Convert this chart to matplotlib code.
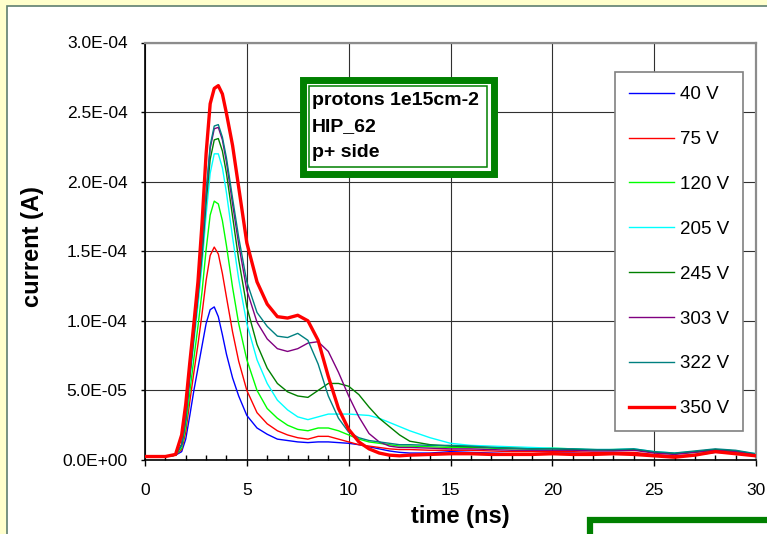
import matplotlib
matplotlib.use('Agg')
import matplotlib.pyplot as plt
from matplotlib.patches import Rectangle
from matplotlib.ticker import MultipleLocator, FixedLocator, FixedFormatter

plt.rcParams['font.family'] = ['Liberation Sans', 'DejaVu Sans']

# time axis (ns), shared by every bias voltage
time_ns = [0, 1, 1.5, 1.8, 2.0, 2.2, 2.4, 2.6, 2.8, 3.0,
           3.2, 3.4, 3.6, 3.8, 4.0, 4.3, 4.6, 5.0, 5.5, 6.0,
           6.5, 7.0, 7.5, 8.0, 8.5, 9.0, 9.5, 10.0, 10.5, 11.0,
           11.5, 12.0, 12.5, 13, 14, 15, 16, 17, 18, 19,
           20, 21, 22, 23, 24, 25, 26, 27, 28, 29, 30]

# current in units of 1e-5 A
i_40 = [0.25, 0.25, 0.35, 0.6, 1.5, 3.2, 5.0, 6.6, 8.2, 9.8,
        10.8, 11.0, 10.3, 9.0, 7.6, 5.9, 4.6, 3.2, 2.3, 1.85,
        1.5, 1.4, 1.3, 1.25, 1.3, 1.3, 1.25, 1.2, 1.1, 0.95,
        0.8, 0.65, 0.55, 0.5, 0.5, 0.6, 0.55, 0.5, 0.45, 0.45,
        0.5, 0.5, 0.45, 0.45, 0.5, 0.3, 0.2, 0.35, 0.55, 0.5, 0.4]
i_75 = [0.25, 0.25, 0.35, 0.75, 2.0, 4.2, 6.3, 8.3, 10.5, 12.9,
        14.7, 15.3, 14.8, 13.4, 11.7, 9.2, 7.1, 5.0, 3.4, 2.6,
        2.1, 1.8, 1.6, 1.5, 1.7, 1.7, 1.5, 1.3, 1.1, 1.0,
        0.9, 0.8, 0.75, 0.75, 0.7, 0.7, 0.7, 0.65, 0.6, 0.6,
        0.6, 0.6, 0.55, 0.55, 0.55, 0.4, 0.3, 0.4, 0.6, 0.5, 0.35]
i_120 = [0.25, 0.25, 0.35, 0.85, 2.4, 4.9, 7.3, 9.6, 12.1, 15.1,
         17.6, 18.6, 18.4, 17.2, 15.4, 12.4, 9.8, 7.2, 5.0, 3.7,
         3.0, 2.5, 2.2, 2.1, 2.3, 2.3, 2.1, 1.8, 1.5, 1.3,
         1.2, 1.1, 1.0, 1.0, 0.95, 0.9, 0.9, 0.85, 0.8, 0.8,
         0.85, 0.8, 0.7, 0.75, 0.75, 0.55, 0.45, 0.55, 0.7, 0.6, 0.4]
i_205 = [0.25, 0.25, 0.35, 1.0, 2.8, 5.7, 8.4, 11.1, 14.0, 17.6,
         20.6, 22.0, 22.0, 21.0, 19.2, 16.0, 13.0, 9.8, 7.2, 5.5,
         4.3, 3.6, 3.1, 2.9, 3.1, 3.3, 3.3, 3.3, 3.25, 3.2,
         3.0, 2.7, 2.4, 2.1, 1.6, 1.2, 1.05, 1.0, 0.95, 0.9,
         0.85, 0.8, 0.75, 0.75, 0.8, 0.6, 0.5, 0.6, 0.75, 0.65, 0.45]
i_245 = [0.25, 0.25, 0.35, 1.1, 2.9, 6.0, 8.8, 11.7, 14.7, 18.5,
         21.6, 23.0, 23.1, 22.2, 20.6, 17.5, 14.4, 11.0, 8.3, 6.6,
         5.5, 4.9, 4.6, 4.5, 5.0, 5.5, 5.5, 5.3, 4.7, 3.8,
         3.0, 2.4, 1.8, 1.35, 1.1, 1.0, 0.95, 0.9, 0.85, 0.8,
         0.8, 0.75, 0.75, 0.7, 0.75, 0.55, 0.45, 0.6, 0.75, 0.65, 0.4]
i_303 = [0.25, 0.25, 0.35, 1.1, 3.0, 6.2, 9.1, 12.0, 15.1, 19.0,
         22.4, 23.8, 23.9, 23.0, 21.4, 18.4, 15.5, 12.2, 9.9, 8.7,
         8.0, 7.8, 8.0, 8.4, 8.5, 7.8, 6.3, 4.6, 3.1, 1.9,
         1.3, 1.0, 0.9, 0.9, 0.85, 0.8, 0.8, 0.75, 0.7, 0.7,
         0.7, 0.7, 0.65, 0.65, 0.7, 0.5, 0.4, 0.55, 0.7, 0.6, 0.4]
i_322 = [0.25, 0.25, 0.35, 1.1, 3.0, 6.3, 9.2, 12.1, 15.2, 19.2,
         22.6, 24.0, 24.1, 23.2, 21.7, 18.8, 16.0, 12.8, 10.6, 9.6,
         8.9, 8.8, 9.1, 8.6, 6.9, 4.6, 3.0, 2.0, 1.6, 1.4,
         1.3, 1.2, 1.1, 1.1, 1.05, 1.05, 1.0, 0.9, 0.85, 0.8,
         0.8, 0.8, 0.75, 0.75, 0.8, 0.6, 0.5, 0.65, 0.8, 0.7, 0.45]
i_350 = [0.25, 0.25, 0.4, 1.8, 4.0, 7.0, 9.8, 12.8, 17.0, 22.0,
         25.6, 26.7, 26.9, 26.3, 24.9, 22.6, 19.6, 15.6, 12.8, 11.2,
         10.3, 10.2, 10.4, 10.0, 8.6, 6.0, 3.7, 2.2, 1.3, 0.8,
         0.5, 0.35, 0.3, 0.35, 0.4, 0.45, 0.45, 0.4, 0.4, 0.4,
         0.45, 0.4, 0.4, 0.45, 0.4, 0.3, 0.2, 0.35, 0.6, 0.45, 0.3]

labels = ['40 V', '75 V', '120 V', '205 V', '245 V', '303 V', '322 V', '350 V']
series = [i_40, i_75, i_120, i_205, i_245, i_303, i_322, i_350]
colors = ['#0000FF', '#FF0000', '#00FF00', '#00FFFF', '#008000', '#800080', '#008080', '#FF0000']
widths = [1.0, 1.0, 1.0, 1.0, 1.0, 1.0, 1.0, 2.4]

y_ticks = [0, 5e-5, 10e-5, 15e-5, 20e-5, 25e-5, 30e-5]
y_tick_labels = ['0.0E+00', '5.0E-05', '1.0E-04', '1.5E-04', '2.0E-04', '2.5E-04', '3.0E-04']
info_lines = ['protons 1e15cm-2', 'HIP_62', 'p+ side']

W, H = 767, 534


def fx(x):
    return x / W


def fy(y):
    return 1 - y / H


fig = plt.figure(figsize=(W / 100, H / 100), dpi=100)
fig.patch.set_facecolor('#FFFFCC')

# white chart area with its thin border, running off the right and bottom edges
fig.patches.append(Rectangle((fx(7), fy(600)), fx(800), (600 - 6) / H, transform=fig.transFigure,
                             facecolor='white', edgecolor='#5f7f70', linewidth=1.2, zorder=-5))

ax = fig.add_axes([fx(145), fy(460), fx(756 - 145), (460 - 42.5) / H])
ax.set_zorder(1)
ax.set_facecolor('white')

for vals, lab, col, lw in zip(series, labels, colors, widths):
    ax.plot(time_ns, [v * 1e-5 for v in vals], color=col, linewidth=lw, label=lab,
            zorder=3 if lw > 2 else 2)

ax.set_xlim(0, 30)
ax.set_ylim(0, 3e-4)
ax.xaxis.set_major_locator(MultipleLocator(5))
ax.xaxis.set_minor_locator(MultipleLocator(1))
ax.yaxis.set_major_locator(FixedLocator(y_ticks))
ax.yaxis.set_major_formatter(FixedFormatter(y_tick_labels))
ax.grid(True, which='major', color='#303030', linewidth=0.8)

ax.tick_params(axis='x', which='major', direction='out', length=4.5, width=1, pad=12, labelsize=12.5)
ax.tick_params(axis='x', which='minor', direction='in', length=3.5, width=1)
ax.tick_params(axis='y', which='major', direction='out', length=3, width=1, pad=9.5, labelsize=12.5)

for side in ['top', 'right']:
    ax.spines[side].set_color('#8c8c8c')
    ax.spines[side].set_linewidth(1.6)
for side in ['left', 'bottom']:
    ax.spines[side].set_color('black')
    ax.spines[side].set_linewidth(1.2)

fig.text(fx(460), fy(516), 'time (ns)', ha='center', va='center', fontsize=17, fontweight='bold')
fig.text(fx(33), fy(247), 'current (A)', ha='center', va='center', rotation=90,
         fontsize=17, fontweight='bold')

leg = ax.legend(loc='upper left', bbox_to_anchor=(fx(615), fy(72)), bbox_transform=fig.transFigure,
                fontsize=13.5, frameon=True, fancybox=False, borderaxespad=0,
                borderpad=0.75, labelspacing=1.48, handlelength=2.4, handletextpad=0.3)
leg.get_frame().set_edgecolor('#808080')
leg.get_frame().set_linewidth(1.2)
leg.get_frame().set_facecolor('white')
leg.get_frame().set_alpha(1)

# double green frame around the run description
fig.patches.append(Rectangle((fx(302.5), fy(173.5)), fx(493.5 - 302.5), (173.5 - 79.5) / H,
                             transform=fig.transFigure, facecolor='white', edgecolor='#008000',
                             linewidth=5.0, zorder=5))
fig.patches.append(Rectangle((fx(309), fy(167)), fx(487 - 309), (167 - 86) / H,
                             transform=fig.transFigure, facecolor='none', edgecolor='#008000',
                             linewidth=1.1, zorder=6))
for txt, base in zip(info_lines, [105, 131, 157]):
    fig.text(fx(312), fy(base), txt, ha='left', va='baseline', fontsize=14, fontweight='bold', zorder=7)

# corner of the next frame below the chart
fig.patches.append(Rectangle((fx(590), fy(640)), fx(400), 120 / H, transform=fig.transFigure,
                             facecolor='white', edgecolor='#008000', linewidth=4.5, zorder=5))

fig.savefig('out.png', dpi=100, facecolor=fig.get_facecolor())
